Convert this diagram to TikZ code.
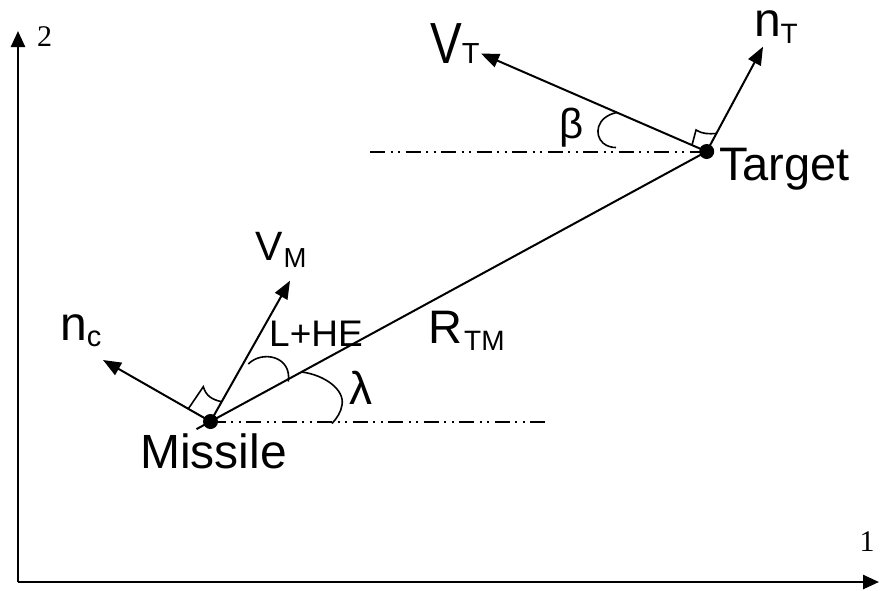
\documentclass[tikz,border=0pt]{standalone}
\usepackage{fontspec}
\setmainfont{Liberation Sans}
\newfontfamily\axisfont{Liberation Serif}
\usetikzlibrary{arrows.meta}
\newcommand\lblsize[1]{\fontsize{#1}{#1}\selectfont}
\tikzset{
  vec/.style={line width=2pt,-{Triangle[length=18pt,width=14pt]}},
  axisline/.style={line width=2.5pt,-{Triangle[length=16pt,width=14pt]}},
  losline/.style={line width=2pt},
  refline/.style={line width=2pt,dash pattern=on 15pt off 5.5pt on 2pt off 5.5pt on 2pt off 5.5pt},
  anglemark/.style={line width=1.6pt},
  dot/.style={circle,fill=black,inner sep=0pt,minimum size=15pt},
  lbl/.style={inner sep=0pt,anchor=base west},
}
\begin{document}
\begin{tikzpicture}[x=1pt,y=-1pt]
\useasboundingbox (0,0) rectangle (880,590);
\fill[white] (0,0) rectangle (880,590);

% axes
\coordinate (O) at (18,582);
\coordinate (Ytip) at (18,31);
\coordinate (Xtip) at (879,582);
\draw[axisline] (O) -- (Ytip);
\draw[axisline] (O) -- (Xtip);
\node[lbl,font=\axisfont\lblsize{30}] (ylab) at (37,46.7) {2};
\node[lbl,font=\axisfont\lblsize{30}] (xlab) at (859.5,551.7) {1};

% main points
\node[dot] (M) at (210.5,421.5) {};
\node[dot] (T) at (706.7,151.5) {};
\coordinate (Mtail) at (196.5,429.1);
\coordinate (Mref) at (545,421.5);
\coordinate (Tref) at (370,151.5);
\coordinate (VMtip) at (290,280.7);
\coordinate (nctip) at (103,360);
\coordinate (VTtip) at (481,53.5);
\coordinate (nTtip) at (763,46.7);

% reference lines
\draw[refline] (M.center) -- (Mref);
\draw[refline] (Tref) -- (T.center);

% line of sight
\draw[losline] (Mtail) -- (T.center);

% vectors
\draw[vec] (M.center) -- (VMtip);
\draw[vec] (M.center) -- (nctip);
\draw[vec] (T.center) -- (VTtip);
\draw[vec] (T.center) -- (nTtip);

% right-angle marks
\draw[anglemark] (188.3,408.8) -- (203.3,386.7) .. controls (206,396) and (212,399.5) .. (221.5,401.7);
\draw[anglemark] (692,145.1) -- (696,130) .. controls (702,134) and (709,134) .. (716,133.5);

% angle arcs
\draw[anglemark] (248.3,364) .. controls (262,350) and (292,356) .. (288.3,381.5);
\draw[anglemark] (301.7,372) .. controls (325,375) and (345,390) .. (342,405) .. controls (341,412) and (337,418) .. (332,423.5);
\draw[anglemark] (616.7,112.5) .. controls (596,117) and (594,135) .. (603,143) .. controls (607,146.5) and (612,147.5) .. (616,147.5);

% labels
\node[lbl] (VT) at (430,63.3) {{\lblsize{58}\scalebox{0.82}[1]{V}}{\lblsize{29}T}};
\node[lbl] (nT) at (753.8,36.7) {{\lblsize{48}n}{\lblsize{28}\raisebox{-6.6pt}{T}}};
\node[lbl] (beta) at (559,138) {\lblsize{42}β};
\node[lbl] (target) at (719,180) {\lblsize{47}Target};
\node[lbl] (VM) at (255,260) {{\lblsize{41}V}\kern1pt{\lblsize{27.5}\raisebox{-7.7pt}{M}}};
\node[lbl] (nc) at (60,340) {{\lblsize{48}n}{\lblsize{29}\raisebox{-6.7pt}{c}}};
\node[lbl] (LHE) at (269,346.7) {\lblsize{37}L+HE};
\node[lbl] (RTM) at (428,343.3) {{\lblsize{47}R}\kern2pt{\lblsize{28}\raisebox{-7.4pt}{TM}}};
\node[lbl] (lambda) at (349.5,404) {\lblsize{46}λ};
\node[lbl] (missile) at (140,468.3) {\lblsize{48}Missile};
\end{tikzpicture}
\end{document}
